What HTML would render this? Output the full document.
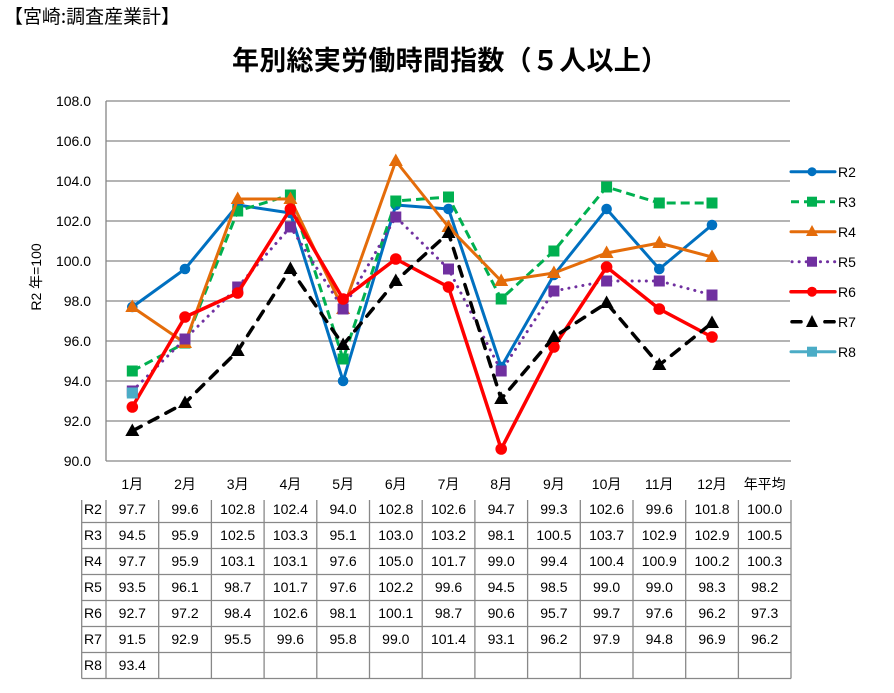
<!DOCTYPE html>
<html><head><meta charset="utf-8"><style>
html,body{margin:0;padding:0;background:#fff;}
svg{display:block;}
text{font-family:"Liberation Sans","Noto Sans CJK JP",sans-serif;fill:#000;}
</style></head><body>
<svg width="894" height="693" viewBox="0 0 894 693" xmlns="http://www.w3.org/2000/svg">
<rect width="894" height="693" fill="#fff"/>
<text x="4" y="23" font-size="19" textLength="176" lengthAdjust="spacingAndGlyphs" style="font-family:'Noto Sans CJK JP','Liberation Sans',sans-serif;font-weight:400">【宮崎:調査産業計】</text>
<text x="232" y="70" font-size="27" textLength="436" lengthAdjust="spacing" style="font-family:'Noto Sans CJK JP','Liberation Sans',sans-serif;font-weight:700">年別総実労働時間指数（５人以上）</text>

<!-- gridlines -->
<g stroke="#868686" stroke-width="1.3">
<line x1="106" y1="101" x2="790" y2="101"/>
<line x1="106" y1="141" x2="790" y2="141"/>
<line x1="106" y1="181" x2="790" y2="181"/>
<line x1="106" y1="221" x2="790" y2="221"/>
<line x1="106" y1="261" x2="790" y2="261"/>
<line x1="106" y1="301" x2="790" y2="301"/>
<line x1="106" y1="341" x2="790" y2="341"/>
<line x1="106" y1="381" x2="790" y2="381"/>
<line x1="106" y1="421" x2="790" y2="421"/>
<line x1="106" y1="461" x2="791" y2="461"/>
<line x1="106" y1="101" x2="106" y2="461"/>
</g>

<!-- y labels -->
<g font-size="14" text-anchor="end">
<text x="91" y="106">108.0</text>
<text x="91" y="146">106.0</text>
<text x="91" y="186">104.0</text>
<text x="91" y="226">102.0</text>
<text x="91" y="266">100.0</text>
<text x="91" y="306">98.0</text>
<text x="91" y="346">96.0</text>
<text x="91" y="386">94.0</text>
<text x="91" y="426">92.0</text>
<text x="91" y="466">90.0</text>
</g>
<text transform="translate(41,277) rotate(-90)" font-size="14" text-anchor="middle">R2 年=100</text>

<!-- R2 -->
<polyline fill="none" stroke="#0070C0" stroke-width="3" stroke-linejoin="round" points="132.3,307 185,269 237.7,205 290.4,213 343.1,381 395.8,205 448.5,209 501.2,367 553.9,275 606.6,209 659.3,269 712,225"/>
<g fill="#0070C0">
<circle cx="132.3" cy="307" r="5.3"/><circle cx="185" cy="269" r="5.3"/><circle cx="237.7" cy="205" r="5.3"/><circle cx="290.4" cy="213" r="5.3"/><circle cx="343.1" cy="381" r="5.3"/><circle cx="395.8" cy="205" r="5.3"/><circle cx="448.5" cy="209" r="5.3"/><circle cx="501.2" cy="367" r="5.3"/><circle cx="553.9" cy="275" r="5.3"/><circle cx="606.6" cy="209" r="5.3"/><circle cx="659.3" cy="269" r="5.3"/><circle cx="712" cy="225" r="5.3"/>
</g>
<!-- R3 -->
<polyline fill="none" stroke="#00B050" stroke-width="3" stroke-dasharray="9,5" stroke-linejoin="round" points="132.3,371 185,343 237.7,211 290.4,195 343.1,359 395.8,201 448.5,197 501.2,299 553.9,251 606.6,187 659.3,203 712,203"/>
<g fill="#00B050">
<rect x="126.8" y="365.5" width="11" height="11"/><rect x="179.5" y="337.5" width="11" height="11"/><rect x="232.2" y="205.5" width="11" height="11"/><rect x="284.9" y="189.5" width="11" height="11"/><rect x="337.6" y="353.5" width="11" height="11"/><rect x="390.3" y="195.5" width="11" height="11"/><rect x="443" y="191.5" width="11" height="11"/><rect x="495.7" y="293.5" width="11" height="11"/><rect x="548.4" y="245.5" width="11" height="11"/><rect x="601.1" y="181.5" width="11" height="11"/><rect x="653.8" y="197.5" width="11" height="11"/><rect x="706.5" y="197.5" width="11" height="11"/>
</g>
<!-- R4 -->
<polyline fill="none" stroke="#E46C0A" stroke-width="3" stroke-linejoin="round" points="132.3,307 185,343 237.7,199 290.4,199 343.1,309 395.8,161 448.5,227 501.2,281 553.9,273 606.6,253 659.3,243 712,257"/>
<g fill="#E46C0A">
<polygon points="132.3,299.5 125.3,312 139.3,312"/><polygon points="185,335.5 178,348 192,348"/><polygon points="237.7,191.5 230.7,204 244.7,204"/><polygon points="290.4,191.5 283.4,204 297.4,204"/><polygon points="343.1,301.5 336.1,314 350.1,314"/><polygon points="395.8,153.5 388.8,166 402.8,166"/><polygon points="448.5,219.5 441.5,232 455.5,232"/><polygon points="501.2,273.5 494.2,286 508.2,286"/><polygon points="553.9,265.5 546.9,278 560.9,278"/><polygon points="606.6,245.5 599.6,258 613.6,258"/><polygon points="659.3,235.5 652.3,248 666.3,248"/><polygon points="712,249.5 705,262 719,262"/>
</g>
<!-- R5 -->
<polyline fill="none" stroke="#7030A0" stroke-width="3" stroke-dasharray="0.1,7" stroke-linecap="round" stroke-linejoin="round" points="132.3,391 185,339 237.7,287 290.4,227 343.1,309 395.8,217 448.5,269 501.2,371 553.9,291 606.6,281 659.3,281 712,295"/>
<g fill="#7030A0">
<rect x="126.8" y="385.5" width="11" height="11"/><rect x="179.5" y="333.5" width="11" height="11"/><rect x="232.2" y="281.5" width="11" height="11"/><rect x="284.9" y="221.5" width="11" height="11"/><rect x="337.6" y="303.5" width="11" height="11"/><rect x="390.3" y="211.5" width="11" height="11"/><rect x="443" y="263.5" width="11" height="11"/><rect x="495.7" y="365.5" width="11" height="11"/><rect x="548.4" y="285.5" width="11" height="11"/><rect x="601.1" y="275.5" width="11" height="11"/><rect x="653.8" y="275.5" width="11" height="11"/><rect x="706.5" y="289.5" width="11" height="11"/>
</g>
<!-- R6 -->
<polyline fill="none" stroke="#FF0000" stroke-width="3.5" stroke-linejoin="round" points="132.3,407 185,317 237.7,293 290.4,209 343.1,299 395.8,259 448.5,287 501.2,449 553.9,347 606.6,267 659.3,309 712,337"/>
<g fill="#FF0000">
<circle cx="132.3" cy="407" r="5.8"/><circle cx="185" cy="317" r="5.8"/><circle cx="237.7" cy="293" r="5.8"/><circle cx="290.4" cy="209" r="5.8"/><circle cx="343.1" cy="299" r="5.8"/><circle cx="395.8" cy="259" r="5.8"/><circle cx="448.5" cy="287" r="5.8"/><circle cx="501.2" cy="449" r="5.8"/><circle cx="553.9" cy="347" r="5.8"/><circle cx="606.6" cy="267" r="5.8"/><circle cx="659.3" cy="309" r="5.8"/><circle cx="712" cy="337" r="5.8"/>
</g>
<!-- R7 -->
<polyline fill="none" stroke="#000" stroke-width="3.5" stroke-dasharray="10,9" stroke-linecap="round" stroke-linejoin="round" points="132.3,431 185,403 237.7,351 290.4,269 343.1,345 395.8,281 448.5,233 501.2,399 553.9,337 606.6,303 659.3,365 712,323"/>
<g fill="#000">
<polygon points="132.3,423.5 125.3,436 139.3,436"/><polygon points="185,395.5 178,408 192,408"/><polygon points="237.7,343.5 230.7,356 244.7,356"/><polygon points="290.4,261.5 283.4,274 297.4,274"/><polygon points="343.1,337.5 336.1,350 350.1,350"/><polygon points="395.8,273.5 388.8,286 402.8,286"/><polygon points="448.5,225.5 441.5,238 455.5,238"/><polygon points="501.2,391.5 494.2,404 508.2,404"/><polygon points="553.9,329.5 546.9,342 560.9,342"/><polygon points="606.6,295.5 599.6,308 613.6,308"/><polygon points="659.3,357.5 652.3,370 666.3,370"/><polygon points="712,315.5 705,328 719,328"/>
</g>
<!-- R8 -->
<rect x="126.8" y="387.5" width="11" height="11" fill="#4BACC6"/>

<!-- legend -->
<g>
<line x1="791" y1="171.7" x2="835" y2="171.7" stroke="#0070C0" stroke-width="3" stroke-linecap="round"/>
<circle cx="812" cy="171.7" r="4.5" fill="#0070C0"/>
<text x="838" y="177" font-size="14">R2</text>

<line x1="791" y1="201.7" x2="835" y2="201.7" stroke="#00B050" stroke-width="3" stroke-dasharray="8,5"/>
<rect x="807" y="196.7" width="10" height="10" fill="#00B050"/>
<text x="838" y="207" font-size="14">R3</text>

<line x1="791" y1="231.7" x2="835" y2="231.7" stroke="#E46C0A" stroke-width="3" stroke-linecap="round"/>
<polygon points="812,225 806,236 818,236" fill="#E46C0A"/>
<text x="838" y="237" font-size="14">R4</text>

<line x1="792" y1="261.7" x2="835" y2="261.7" stroke="#7030A0" stroke-width="3" stroke-dasharray="0.1,7" stroke-linecap="round"/>
<rect x="807" y="256.7" width="10" height="10" fill="#7030A0"/>
<text x="838" y="267" font-size="14">R5</text>

<line x1="791" y1="291.7" x2="835" y2="291.7" stroke="#FF0000" stroke-width="3.5" stroke-linecap="round"/>
<circle cx="812" cy="291.7" r="5" fill="#FF0000"/>
<text x="838" y="297" font-size="14">R6</text>

<line x1="792" y1="321.7" x2="834" y2="321.7" stroke="#000" stroke-width="3.5" stroke-dasharray="9,24" stroke-linecap="round"/>
<line x1="825" y1="321.7" x2="834" y2="321.7" stroke="#000" stroke-width="3.5" stroke-linecap="round"/>
<polygon points="812,315 806,327 818,327" fill="#000"/>
<text x="838" y="327" font-size="14">R7</text>

<line x1="791" y1="351.7" x2="835" y2="351.7" stroke="#4BACC6" stroke-width="3" stroke-linecap="round"/>
<rect x="807" y="346.7" width="10" height="10" fill="#4BACC6"/>
<text x="838" y="357" font-size="14">R8</text>
</g>

<!-- category labels -->
<g font-size="14" text-anchor="middle">
<text x="132.3" y="489">1月</text>
<text x="185" y="489">2月</text>
<text x="237.7" y="489">3月</text>
<text x="290.4" y="489">4月</text>
<text x="343.1" y="489">5月</text>
<text x="395.8" y="489">6月</text>
<text x="448.5" y="489">7月</text>
<text x="501.2" y="489">8月</text>
<text x="553.9" y="489">9月</text>
<text x="606.6" y="489">10月</text>
<text x="659.3" y="489">11月</text>
<text x="712" y="489">12月</text>
<text x="764.7" y="489">年平均</text>
</g>

<!-- table grid -->
<g stroke="#888" stroke-width="1.3">
<line x1="81.7" y1="522.5" x2="791" y2="522.5"/>
<line x1="81.7" y1="548.5" x2="791" y2="548.5"/>
<line x1="81.7" y1="574.5" x2="791" y2="574.5"/>
<line x1="81.7" y1="600.5" x2="791" y2="600.5"/>
<line x1="81.7" y1="626.5" x2="791" y2="626.5"/>
<line x1="81.7" y1="652.5" x2="791" y2="652.5"/>
<line x1="81.7" y1="678.5" x2="791" y2="678.5"/>
<line x1="81.7" y1="500" x2="81.7" y2="678.5"/>
<line x1="106" y1="500" x2="106" y2="678.5"/>
<line x1="158.7" y1="500" x2="158.7" y2="678.5"/>
<line x1="211.4" y1="500" x2="211.4" y2="678.5"/>
<line x1="264.1" y1="500" x2="264.1" y2="678.5"/>
<line x1="316.8" y1="500" x2="316.8" y2="678.5"/>
<line x1="369.5" y1="500" x2="369.5" y2="678.5"/>
<line x1="422.2" y1="500" x2="422.2" y2="678.5"/>
<line x1="474.9" y1="500" x2="474.9" y2="678.5"/>
<line x1="527.6" y1="500" x2="527.6" y2="678.5"/>
<line x1="580.3" y1="500" x2="580.3" y2="678.5"/>
<line x1="633" y1="500" x2="633" y2="678.5"/>
<line x1="685.7" y1="500" x2="685.7" y2="678.5"/>
<line x1="738.4" y1="500" x2="738.4" y2="678.5"/>
<line x1="791" y1="500" x2="791" y2="678.5"/>
</g>

<!-- table text -->
<g font-size="14">
<text x="84" y="514">R2</text>
<text x="84" y="540">R3</text>
<text x="84" y="566">R4</text>
<text x="84" y="592">R5</text>
<text x="84" y="618">R6</text>
<text x="84" y="644">R7</text>
<text x="84" y="670">R8</text>
</g>
<g font-size="14" text-anchor="middle">
<text y="514"><tspan x="132.3">97.7</tspan><tspan x="185">99.6</tspan><tspan x="237.7">102.8</tspan><tspan x="290.4">102.4</tspan><tspan x="343.1">94.0</tspan><tspan x="395.8">102.8</tspan><tspan x="448.5">102.6</tspan><tspan x="501.2">94.7</tspan><tspan x="553.9">99.3</tspan><tspan x="606.6">102.6</tspan><tspan x="659.3">99.6</tspan><tspan x="712">101.8</tspan><tspan x="764.7">100.0</tspan></text>
<text y="540"><tspan x="132.3">94.5</tspan><tspan x="185">95.9</tspan><tspan x="237.7">102.5</tspan><tspan x="290.4">103.3</tspan><tspan x="343.1">95.1</tspan><tspan x="395.8">103.0</tspan><tspan x="448.5">103.2</tspan><tspan x="501.2">98.1</tspan><tspan x="553.9">100.5</tspan><tspan x="606.6">103.7</tspan><tspan x="659.3">102.9</tspan><tspan x="712">102.9</tspan><tspan x="764.7">100.5</tspan></text>
<text y="566"><tspan x="132.3">97.7</tspan><tspan x="185">95.9</tspan><tspan x="237.7">103.1</tspan><tspan x="290.4">103.1</tspan><tspan x="343.1">97.6</tspan><tspan x="395.8">105.0</tspan><tspan x="448.5">101.7</tspan><tspan x="501.2">99.0</tspan><tspan x="553.9">99.4</tspan><tspan x="606.6">100.4</tspan><tspan x="659.3">100.9</tspan><tspan x="712">100.2</tspan><tspan x="764.7">100.3</tspan></text>
<text y="592"><tspan x="132.3">93.5</tspan><tspan x="185">96.1</tspan><tspan x="237.7">98.7</tspan><tspan x="290.4">101.7</tspan><tspan x="343.1">97.6</tspan><tspan x="395.8">102.2</tspan><tspan x="448.5">99.6</tspan><tspan x="501.2">94.5</tspan><tspan x="553.9">98.5</tspan><tspan x="606.6">99.0</tspan><tspan x="659.3">99.0</tspan><tspan x="712">98.3</tspan><tspan x="764.7">98.2</tspan></text>
<text y="618"><tspan x="132.3">92.7</tspan><tspan x="185">97.2</tspan><tspan x="237.7">98.4</tspan><tspan x="290.4">102.6</tspan><tspan x="343.1">98.1</tspan><tspan x="395.8">100.1</tspan><tspan x="448.5">98.7</tspan><tspan x="501.2">90.6</tspan><tspan x="553.9">95.7</tspan><tspan x="606.6">99.7</tspan><tspan x="659.3">97.6</tspan><tspan x="712">96.2</tspan><tspan x="764.7">97.3</tspan></text>
<text y="644"><tspan x="132.3">91.5</tspan><tspan x="185">92.9</tspan><tspan x="237.7">95.5</tspan><tspan x="290.4">99.6</tspan><tspan x="343.1">95.8</tspan><tspan x="395.8">99.0</tspan><tspan x="448.5">101.4</tspan><tspan x="501.2">93.1</tspan><tspan x="553.9">96.2</tspan><tspan x="606.6">97.9</tspan><tspan x="659.3">94.8</tspan><tspan x="712">96.9</tspan><tspan x="764.7">96.2</tspan></text>
<text y="670"><tspan x="132.3">93.4</tspan></text>
</g>
</svg>
</body></html>
